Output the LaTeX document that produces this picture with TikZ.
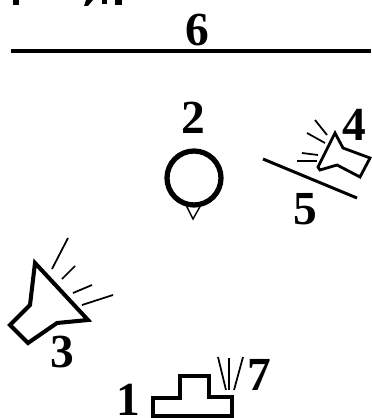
\documentclass[tikz,border=0pt]{standalone}
\usepackage{fontspec}
\setmainfont{Liberation Serif}
\usetikzlibrary{positioning}
\tikzset{
  numlabel/.style={font=\bfseries\fontsize{27}{27}\selectfont, inner sep=0pt},
  outline/.style={draw=black, line width=2.3pt, line join=miter},
  ray/.style={draw=black, line width=1pt}
}
\begin{document}
\begin{tikzpicture}[x=0.02cm, y=-0.02cm]
  \useasboundingbox (0,0) rectangle (371,418);

  % Top edge
  \fill[black] (13,0) rectangle (19,5);
  \fill[black] (86,0) -- (93,0) -- (88,6) -- (84,6) -- cycle;
  \fill[black] (102,0) rectangle (107,4);
  \fill[black] (115,0) rectangle (122,5);

  % Ceiling line
  \coordinate (ceilL) at (11,51);
  \coordinate (ceilR) at (371,51);
  \draw[line width=2.2pt] (ceilL) -- (ceilR);
  \node[numlabel] (six) at (197,30) {6};

  % Microphone
  \node[numlabel] (two) at (193,118) {2};
  \node[draw=black, line width=3pt, circle, minimum size=1.08cm, inner sep=0pt] (mic) at (194,178) {};
  \coordinate (micL) at (185,203);
  \coordinate (micR) at (202,203);
  \coordinate (micB) at (193,219);
  \draw[line width=0.8pt] (micL) -- (micB) -- (micR);

  % Small speaker and its screen
  \draw[outline, line width=1.6pt] (335,133) -- (343,148) -- (370,158) -- (360,177) -- (337,165) -- (320,170) -- (318,167) -- cycle;
  \draw[ray] (315,120) -- (327,135);
  \draw[ray] (307,133) -- (325,143);
  \draw[ray] (302,153) -- (318,155);
  \draw[ray] (297,161) -- (317,161);
  \node[numlabel] (four) at (354,125) {4};
  \coordinate (scrL) at (263,159);
  \coordinate (scrR) at (357,198);
  \draw[line width=1.7pt] (scrL) -- (scrR);
  \node[numlabel] (five) at (305,209) {5};

  % Large speaker
  \draw[outline] (35,263) -- (30,305) -- (10,325) -- (28,343) -- (57,323) -- (88,320) -- cycle;
  \draw[ray] (52,269) -- (68,238);
  \draw[ray] (62,279) -- (75,266);
  \draw[ray] (73,293) -- (92,285);
  \draw[ray] (82,305) -- (113,295);
  \node[numlabel] (three) at (62,352) {3};

  % Source
  \draw[outline] (153,416) -- (153,398) -- (180,398) -- (180,376) -- (209,376) -- (209,397) -- (232,397) -- (232,416) -- cycle;
  \draw[ray] (218,357) -- (226,390);
  \draw[ray] (229,358) -- (229,390);
  \draw[ray] (243,357) -- (234,390);
  \node[numlabel] (one) at (128,400) {1};
  \node[numlabel] (seven) at (259,375) {7};
\end{tikzpicture}
\end{document}
